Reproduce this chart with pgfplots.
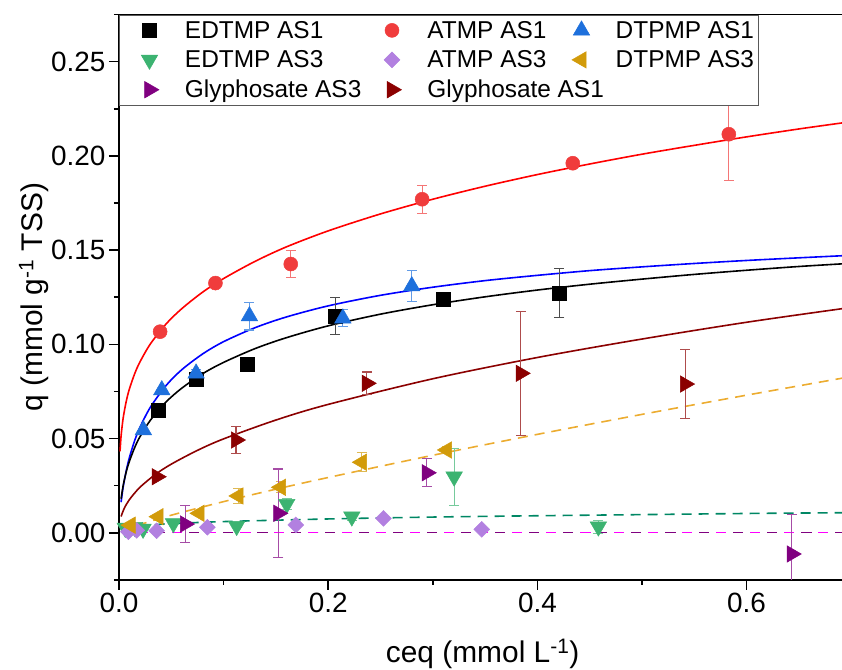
\documentclass[border=0pt]{standalone}
\usepackage{fontspec}
\setmainfont{Liberation Sans}
\usepackage{pgfplots}
\pgfplotsset{compat=1.18}
\definecolor{cRed}{RGB}{240,60,60}
\definecolor{cBlue}{RGB}{30,112,220}
\definecolor{cGreen}{RGB}{60,179,113}
\definecolor{cLav}{RGB}{178,128,224}
\definecolor{cGold}{RGB}{210,155,10}
\definecolor{cPurp}{RGB}{128,0,128}
\definecolor{cDRed}{RGB}{139,0,0}
\definecolor{fGreen}{RGB}{0,135,100}
\definecolor{fGold}{RGB}{236,172,48}
\definecolor{fMag}{RGB}{255,0,255}
\pgfplotsset{
  ser/.style n args={2}{only marks, mark options={draw=#1, fill=#1, line width=0.5bp, rotate=#2},
    error bars/y dir=both, error bars/y explicit,
    error bars/error bar style={line width=1.1bp, color=#1!70!white},
    error bars/error mark options={rotate=90, mark size=5bp, line width=1.1bp, color=#1!70!white},
    legend image code/.code={\path[draw=none, fill=none] (-27bp,0bp) -- (7bp,0bp); \draw[##1] plot coordinates {(0bp,0bp)};}},
  fit/.style={no marks, smooth, line width=1.6bp, color=#1, forget plot},
  dfit/.style={no marks, smooth, line width=1.6bp, color=#1, forget plot, dash pattern=on 10bp off 7bp},
}
\begin{document}
\begin{tikzpicture}
\begin{axis}[name=ax, at={(0,0)}, anchor=south west, scale only axis,
  width=723bp, height=565.2bp,
  xmin=0, xmax=0.6912, ymin=-0.025, ymax=0.275,
  axis lines*=left, axis line style={line width=1.6bp, black},
  xtick={0,0.2,0.4,0.6}, minor xtick={0.1,0.3,0.5},
  ytick={0,0.05,0.1,0.15,0.2,0.25}, minor ytick={-0.025,0.025,0.075,0.125,0.175,0.225,0.275},
  tick align=outside, major tick length=10bp, minor tick length=5bp,
  tick style={black, line width=1.6bp},
  tick label style={font=\fontsize{28}{32}\selectfont},
  xticklabel style={/pgf/number format/fixed, /pgf/number format/fixed zerofill, /pgf/number format/precision=1, /pgf/number format/assume math mode=true},
  yticklabel style={/pgf/number format/fixed, /pgf/number format/fixed zerofill, /pgf/number format/precision=2, /pgf/number format/assume math mode=true},
  every axis x label/.style={at={(axis description cs:0.503,-0.147)}, anchor=base, font=\fontsize{30}{36}\selectfont},
  every axis y label/.style={at={(axis description cs:-0.106,0.5)}, rotate=90, anchor=base, font=\fontsize{30}{36}\selectfont},
  xlabel={ceq (mmol L\textsuperscript{-1})},
  ylabel={q (mmol g\textsuperscript{-1} TSS)},
  legend columns=3, legend cell align=left,
  legend style={at={(0,1)}, anchor=north west, draw=gray!70!black, line width=1bp, fill=white,
    font=\fontsize{24.5}{29}\selectfont, inner xsep=3bp, inner ysep=4bp, row sep=7bp,
    nodes={inner xsep=0bp},
    /tikz/every odd column/.append style={column sep=26bp},
    /tikz/every even column/.append style={column sep=4bp}},
]
% ---- fitted curves ----
\addplot[fit=red] coordinates {(0.001,0.0432)(0.002,0.0513)(0.004,0.0609)(0.007,0.0699)(0.01,0.0764)(0.015,0.0844)(0.02,0.0906)(0.03,0.1002)(0.045,0.1108)(0.06,0.1189)(0.08,0.1277)(0.1,0.1349)(0.13,0.1440)(0.16,0.1517)(0.2,0.1602)(0.25,0.1692)(0.3,0.1770)(0.35,0.1839)(0.4,0.1901)(0.45,0.1957)(0.5,0.2009)(0.55,0.2056)(0.6,0.2101)(0.65,0.2143)(0.6912,0.2175)};
\addplot[fit=blue] coordinates {(0.002,0.0162)(0.004,0.0243)(0.007,0.0331)(0.01,0.0400)(0.015,0.0489)(0.02,0.0559)(0.03,0.0666)(0.045,0.0781)(0.06,0.0865)(0.08,0.0949)(0.1,0.1014)(0.13,0.1088)(0.16,0.1145)(0.2,0.1204)(0.25,0.1260)(0.3,0.1303)(0.35,0.1338)(0.4,0.1366)(0.45,0.1391)(0.5,0.1411)(0.55,0.1429)(0.6,0.1445)(0.65,0.1459)(0.6912,0.1470)};
\addplot[fit=black] coordinates {(0.002,0.0180)(0.004,0.0251)(0.007,0.0325)(0.01,0.0380)(0.015,0.0452)(0.02,0.0509)(0.03,0.0597)(0.045,0.0694)(0.06,0.0767)(0.08,0.0844)(0.1,0.0904)(0.13,0.0977)(0.16,0.1035)(0.2,0.1098)(0.25,0.1160)(0.3,0.1210)(0.35,0.1252)(0.4,0.1288)(0.45,0.1319)(0.5,0.1346)(0.55,0.1371)(0.6,0.1393)(0.65,0.1413)(0.6912,0.1427)};
\addplot[fit=cDRed] coordinates {(0.002,0.0086)(0.005,0.0129)(0.01,0.0176)(0.02,0.0241)(0.035,0.0310)(0.05,0.0364)(0.075,0.0437)(0.1,0.0498)(0.15,0.0598)(0.2,0.0681)(0.3,0.0817)(0.4,0.0930)(0.5,0.1028)(0.6,0.1117)(0.6912,0.1189)};
\addplot[dfit=fGold] coordinates {(0.002,0.0006)(0.005,0.0014)(0.01,0.0024)(0.02,0.0043)(0.05,0.0093)(0.1,0.0165)(0.15,0.0231)(0.2,0.0293)(0.3,0.0411)(0.4,0.0522)(0.5,0.0628)(0.6,0.0730)(0.6912,0.0820)};
\addplot[dfit=fGreen] coordinates {(0.002,0.0018)(0.01,0.0030)(0.03,0.0041)(0.05,0.0048)(0.1,0.0059)(0.2,0.0073)(0.3,0.0083)(0.4,0.0090)(0.5,0.0096)(0.6,0.0102)(0.6912,0.0106)};
\addplot[dfit=cPurp, dash pattern=on 10bp off 24bp] coordinates {(0.002,0.0002)(0.6912,0.0002)};
\addplot[dfit=fMag, dash pattern=on 10bp off 24bp, dash phase=17bp] coordinates {(0.002,0.0002)(0.6912,0.0002)};
% ---- data ----
\addplot[mark=square*, mark size=7bp, ser={black}{0}] table[x index=0, y index=1, y error index=2] {
0.0377 0.0650 0
0.0737 0.0812 0
0.1225 0.0894 0
0.2066 0.1150 0.0097
0.3098 0.1239 0
0.4210 0.1271 0.0129
};
\addlegendentry{\makebox[176bp][l]{EDTMP AS1}}
\addplot[mark=*, mark size=7bp, ser={cRed}{0}] table[x index=0, y index=1, y error index=2] {
0.0393 0.1067 0
0.0922 0.1325 0.0022
0.1642 0.1426 0.0070
0.2898 0.1770 0.0074
0.4338 0.1961 0
0.5830 0.2115 0.0247
};
\addlegendentry{\makebox[123bp][l]{ATMP AS1}}
\addplot[mark=triangle*, mark size=9.5bp, ser={cBlue}{0}] table[x index=0, y index=1, y error index=2] {
0.0233 0.0545 0
0.0409 0.0757 0
0.0737 0.0846 0.0020
0.1247 0.1150 0.0074
0.2140 0.1138 0.0045
0.2799 0.1309 0.0084
};
\addlegendentry{\makebox[140bp][l]{DTPMP AS1}}
\addplot[mark=triangle*, mark size=9.5bp, ser={cGreen}{180}] table[x index=0, y index=1, y error index=2] {
0.006 0.0025 0
0.015 0.0030 0
0.023 0.0020 0
0.052 0.0050 0
0.1125 0.0035 0
0.1604 0.0152 0.0028
0.2226 0.0085 0.0020
0.3204 0.0297 0.0152
0.4583 0.0032 0.0035
};
\addlegendentry{\makebox[176bp][l]{EDTMP AS3}}
\addplot[mark=square*, mark size=5.6bp, ser={cLav}{45}] table[x index=0, y index=1, y error index=2] {
0.009 0.0005 0
0.017 0.0012 0
0.036 0.0010 0
0.0845 0.0029 0
0.1690 0.0041 0
0.2528 0.0076 0
0.3468 0.0018 0
};
\addlegendentry{\makebox[123bp][l]{ATMP AS3}}
\addplot[mark=triangle*, mark size=9.5bp, ser={cGold}{90}] table[x index=0, y index=1, y error index=2] {
0.011 0.0040 0
0.0377 0.0085 0
0.0769 0.0103 0
0.1141 0.0195 0.0040
0.1547 0.0241 0.0030
0.2321 0.0374 0.0050
0.3134 0.0439 0.0020
};
\addlegendentry{\makebox[140bp][l]{DTPMP AS3}}
\addplot[mark=triangle*, mark size=9.5bp, ser={cPurp}{-90}] table[x index=0, y index=1, y error index=2] {
0.0632 0.0046 0.0097
0.1524 0.0103 0.0235
0.2943 0.0318 0.0075
0.6432 -0.0113 0.0210
};
\addlegendentry{\makebox[176bp][l]{Glyphosate AS3}}
\addplot[mark=triangle*, mark size=9.5bp, ser={cDRed}{-90}] table[x index=0, y index=1, y error index=2] {
0.0361 0.0297 0
0.1119 0.0492 0.0073
0.2369 0.0793 0.0060
0.3841 0.0846 0.0330
0.5412 0.0789 0.0183
};
\addlegendentry{\makebox[123bp][l]{Glyphosate AS1}}
\end{axis}
\draw[line width=1.6bp] (ax.north west) -- (ax.north east);
\path (ax.south west) ++(-119bp,-90.2bp) coordinate (bl);
\path (ax.north east) ++(0bp,14.6bp) coordinate (tr);
\pgfresetboundingbox
\useasboundingbox (bl) rectangle (tr);
\end{tikzpicture}
\end{document}
